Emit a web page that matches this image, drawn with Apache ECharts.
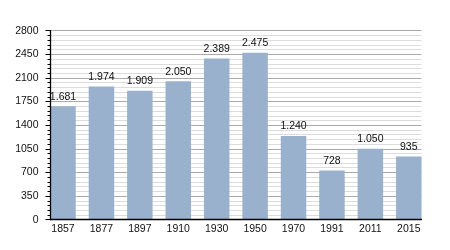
<!DOCTYPE html>
<html><head><meta charset="utf-8">
<script src="https://cdn.jsdelivr.net/npm/echarts@6/dist/echarts.min.js"></script>
<style>html,body{margin:0;padding:0;background:#fff}#c{width:450px;height:250px}</style>
</head><body><div id="c"></div>
<script>
var categories = ['1857','1877','1897','1910','1930','1950','1970','1991','2011','2015'];
var population = [1681,1974,1909,2050,2389,2475,1240,728,1050,935];
var yTicks = [0,350,700,1050,1400,1750,2100,2450,2800];

var FONT = '"Liberation Sans", Arial, sans-serif';
function fmt(v){ return String(v).replace(/\B(?=(\d{3})+(?!\d))/g, '.'); }
var yMin = yTicks[0], yMax = yTicks[yTicks.length-1], yStep = yTicks[1]-yTicks[0];

var chart = echarts.init(document.getElementById('c'), null, {renderer:'canvas'});
chart.setOption({
  animation:false,
  backgroundColor:'#fff',
  grid:[
    {left:50.5, right:28.5, top:30.7, bottom:30.3},
    {left:43.8, right:22.0, top:30.7, bottom:30.3},
    {left:50.5, right:28.5, top:30.7, bottom:30.3}
  ],
  xAxis:[
    {type:'value', gridIndex:0, min:0, max:1, show:false},
    {type:'category', gridIndex:1, data:categories,
     axisLine:{show:false}, axisTick:{show:false},
     axisLabel:{margin:4, fontSize:10.5, color:'#111', fontFamily:FONT}},
    {type:'value', gridIndex:2, min:0, max:1, z:10,
     axisLine:{show:true, onZero:false, lineStyle:{color:'#000', width:1.3}},
     axisTick:{show:false}, axisLabel:{show:false}, splitLine:{show:false}}
  ],
  yAxis:[
    {type:'value', gridIndex:0, min:yMin, max:yMax, interval:yStep,
     axisLine:{show:false}, axisTick:{show:false}, axisLabel:{show:false},
     splitLine:{show:true, lineStyle:{color:'#aaaaaa', width:1}},
     minorTick:{show:false, splitNumber:5},
     minorSplitLine:{show:true, lineStyle:{color:'#dcdcdc', width:1}}},
    {type:'value', gridIndex:1, min:yMin, max:yMax, show:false},
    {type:'value', gridIndex:2, min:yMin, max:yMax, interval:yStep, z:10,
     axisLine:{show:true, lineStyle:{color:'#000', width:1.3}},
     axisTick:{show:true, length:5, lineStyle:{color:'#000'}},
     minorTick:{show:true, splitNumber:5, length:3, lineStyle:{color:'#000'}},
     axisLabel:{margin:12, fontSize:10.5, color:'#111', fontFamily:FONT,
       formatter:function(v){ return String(v); }},
     splitLine:{show:false}, minorSplitLine:{show:false}}
  ],
  series:[{
    type:'bar', xAxisIndex:1, yAxisIndex:1, data:population,
    barWidth:25.5,
    itemStyle:{color:'#99b1cc'},
    label:{show:true, position:'top', distance:4, fontSize:10.5, color:'#111', fontFamily:FONT,
      formatter:function(p){ return fmt(p.value); }}
  }]
});
</script></body></html>
